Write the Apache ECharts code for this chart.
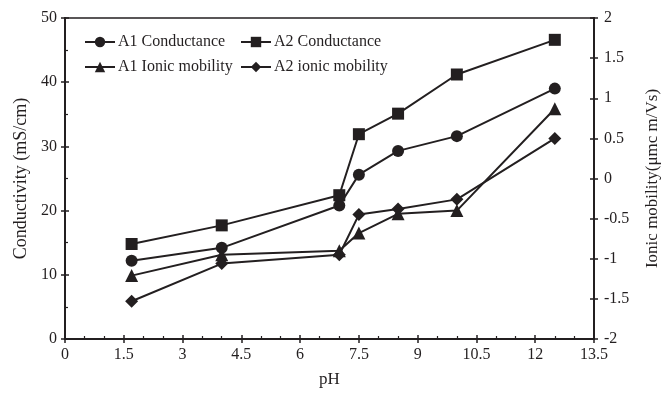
<!DOCTYPE html>
<html>
<head>
<meta charset="utf-8">
<script src="https://cdn.jsdelivr.net/npm/echarts@6/dist/echarts.min.js"></script>
<style>
  html, body { margin: 0; padding: 0; background: #fff; }
  #chart { width: 669px; height: 393px; }
</style>
</head>
<body>
<div id="chart"></div>
<script>
// pH values at which each sample was measured
const phValues = [1.7, 4.0, 7.0, 7.5, 8.5, 10.0, 12.5];

// Conductivity (mS/cm), left axis
const a1Conductance = [12.2, 14.2, 20.8, 25.6, 29.3, 31.6, 39.0];
const a2Conductance = [14.8, 17.7, 22.4, 31.9, 35.1, 41.2, 46.6];

// Ionic mobility, right axis
const a1Mobility = [-1.21, -0.95, -0.90, -0.68, -0.44, -0.40, 0.87];
const a2Mobility = [-1.53, -1.06, -0.95, -0.45, -0.38, -0.26, 0.50];

const seriesNames = ['A1 Conductance', 'A2 Conductance', 'A1 Ionic mobility', 'A2 ionic mobility'];

const INK = '#231f20';
const FONT = 'Liberation Serif';

function pairs(ys) {
  return phValues.map((x, i) => [x, ys[i]]);
}

function lineSeries(name, ys, symbol, size, yIndex) {
  return {
    name: name,
    type: 'line',
    yAxisIndex: yIndex,
    data: pairs(ys),
    symbol: symbol,
    symbolSize: size,
    showAllSymbol: true,
    lineStyle: { color: INK, width: 2 },
    itemStyle: { color: INK },
    emphasis: { disabled: true },
    animation: false,
    z: 3
  };
}

const axisLine = { show: true, onZero: false, lineStyle: { color: INK, width: 2 } };
const tickStyle = { color: INK, width: 1.5 };

function legendAt(name, left, top) {
  return {
    data: [name],
    left: left,
    top: top,
    itemWidth: 30,
    itemHeight: 13,
    itemGap: 0,
    padding: 0,
    textStyle: { fontFamily: FONT, fontSize: 16, color: INK, padding: [0, 0, 0, -2] },
    selectedMode: false
  };
}

const chart = echarts.init(document.getElementById('chart'), null, { renderer: 'canvas' });

chart.setOption({
  backgroundColor: '#fff',
  animation: false,
  textStyle: { fontFamily: FONT },
  grid: {
    left: 65, right: 69, top: 18, bottom: 51,
    show: true, borderColor: INK, borderWidth: 1.5, backgroundColor: 'transparent'
  },
  legend: [
    legendAt(seriesNames[0], 84, 34),
    legendAt(seriesNames[1], 240, 34),
    legendAt(seriesNames[2], 84, 59),
    legendAt(seriesNames[3], 240, 59)
  ],
  xAxis: [
    {
      type: 'value', min: 0, max: 13.5, interval: 1.5,
      name: 'pH', nameLocation: 'middle', nameGap: 32,
      nameTextStyle: { fontFamily: FONT, fontSize: 17, color: INK },
      axisLine: axisLine,
      axisTick: { show: true, inside: false, length: 4, lineStyle: tickStyle },
      axisLabel: { fontFamily: FONT, fontSize: 16, color: INK, margin: 8 },
      splitLine: { show: false }
    },
    {
      // inner half of the crossing ticks plus minor ticks
      type: 'value', min: 0, max: 13.5, interval: 1.5, position: 'bottom',
      axisLine: axisLine,
      axisTick: { show: true, inside: true, length: 4, lineStyle: tickStyle },
      minorTick: { show: true, splitNumber: 3, length: 3, lineStyle: { color: INK, width: 1.2 } },
      axisLabel: { show: false },
      splitLine: { show: false }
    }
  ],
  yAxis: [
    {
      type: 'value', min: 0, max: 50, interval: 10, position: 'left',
      name: 'Conductivity (mS/cm)', nameLocation: 'middle', nameGap: 35,
      nameTextStyle: { fontFamily: FONT, fontSize: 18, color: INK },
      axisLine: axisLine,
      axisTick: { show: true, inside: false, length: 4, lineStyle: tickStyle },
      axisLabel: { fontFamily: FONT, fontSize: 16, color: INK, margin: 8 },
      splitLine: { show: false }
    },
    {
      type: 'value', min: -2, max: 2, interval: 0.5, position: 'right',
      name: 'Ionic mobility(μmc m/Vs)', nameLocation: 'middle', nameGap: 50, nameRotate: 90,
      nameTextStyle: { fontFamily: FONT, fontSize: 17, color: INK },
      axisLine: axisLine,
      axisTick: { show: true, inside: false, length: 4, lineStyle: tickStyle },
      axisLabel: { fontFamily: FONT, fontSize: 16, color: INK, margin: 10 },
      splitLine: { show: false }
    },
    {
      type: 'value', min: 0, max: 50, interval: 10, position: 'left',
      axisLine: axisLine,
      axisTick: { show: true, inside: true, length: 4, lineStyle: tickStyle },
      minorTick: { show: true, splitNumber: 2, length: 3, lineStyle: { color: INK, width: 1.2 } },
      axisLabel: { show: false },
      splitLine: { show: false }
    },
    {
      type: 'value', min: -2, max: 2, interval: 0.5, position: 'right',
      axisLine: axisLine,
      axisTick: { show: true, inside: true, length: 4, lineStyle: tickStyle },
      axisLabel: { show: false },
      splitLine: { show: false }
    }
  ],
  series: [
    lineSeries(seriesNames[0], a1Conductance, 'circle', 12, 0),
    lineSeries(seriesNames[1], a2Conductance, 'rect', 12, 0),
    lineSeries(seriesNames[2], a1Mobility, 'triangle', 13, 1),
    lineSeries(seriesNames[3], a2Mobility, 'diamond', 13, 1)
  ]
});
</script>
</body>
</html>
